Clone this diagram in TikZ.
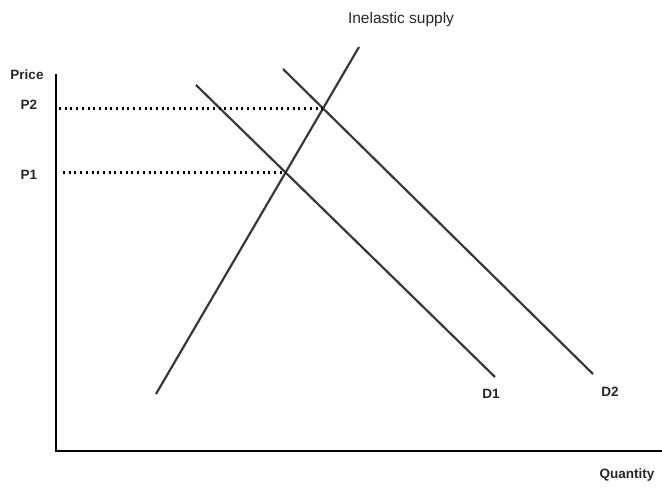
\documentclass[tikz,border=0pt]{standalone}
\usepackage{fontspec}
\setmainfont{Liberation Sans}
\usetikzlibrary{intersections}

\begin{document}
\begin{tikzpicture}[
  x=1pt,y=-1pt,
  axis/.style={line width=2.6pt,draw=black},
  curve/.style={line width=2.2pt,draw=black!78},
  guide/.style={line width=2.2pt,draw=black,dash pattern=on 2pt off 3.7pt},
  lbl/.style={font=\fontsize{13.5}{15}\selectfont\bfseries,text=black!85,inner sep=0pt},
  title/.style={font=\fontsize{15.5}{17}\selectfont,text=black!85,inner sep=0pt}
]
\useasboundingbox (0,0) rectangle (662,489);

% axes
\coordinate (origin) at (56,451);
\coordinate (ytop) at (56,74);
\coordinate (xend) at (662,451);
\draw[axis] (ytop) -- (origin) -- (xend);

% supply and demand lines
\coordinate (slo) at (156,394);
\coordinate (shi) at (359,47);
\coordinate (d1hi) at (196,85);
\coordinate (d1lo) at (495,377);
\coordinate (d2hi) at (283,69);
\coordinate (d2lo) at (593,374);
\draw[curve,name path=supply] (slo) -- (shi);
\draw[curve,name path=dem1] (d1hi) -- (d1lo);
\draw[curve,name path=dem2] (d2hi) -- (d2lo);
\path[name intersections={of=supply and dem1,by=eq1}];
\path[name intersections={of=supply and dem2,by=eq2}];

% price guides
\coordinate (p1start) at (63,0 |- eq1);
\coordinate (p2start) at (59,0 |- eq2);
\draw[guide] (p1start) -- (eq1);
\draw[guide] (p2start) -- (eq2);

% labels
\node[title] (suplbl) at (401,19) {Inelastic supply};
\node[lbl] (pricelbl) at (27,75) {Price};
\node[lbl] (p2lbl) at (29,105) {P2};
\node[lbl] (p1lbl) at (29,175) {P1};
\node[lbl] (d1lbl) at (491,394) {D1};
\node[lbl] (d2lbl) at (610,392) {D2};
\node[lbl] (qtylbl) at (627,475) {Quantity};
\end{tikzpicture}
\end{document}
